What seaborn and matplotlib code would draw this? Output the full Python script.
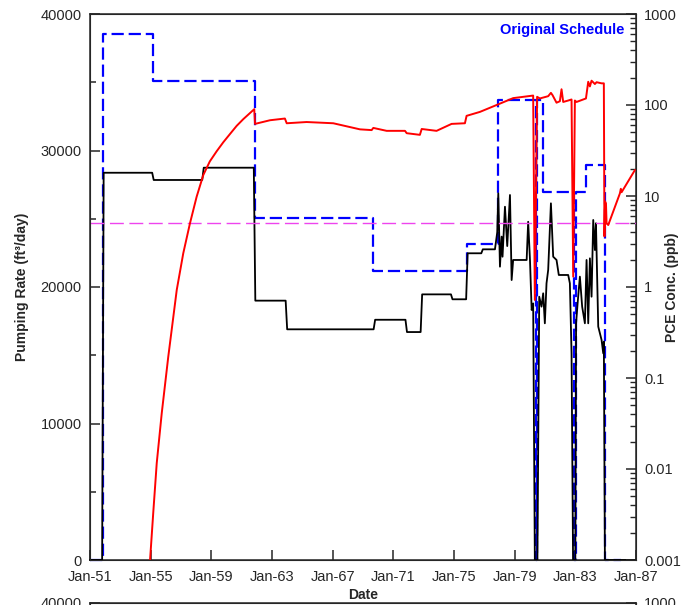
import numpy as np
import pandas as pd
import matplotlib
matplotlib.use("Agg")
import matplotlib.pyplot as plt
import seaborn as sns
from matplotlib.ticker import MultipleLocator, LogLocator, NullFormatter, FixedLocator

# ---------------- data ----------------
# Original schedule (left axis, ft3/day), step-post
sched_year = [1951.0, 1951.87, 1955.17, 1961.88, 1969.68, 1975.83, 1977.87,
              1980.40, 1980.50, 1980.88, 1982.88, 1983.06, 1983.70, 1984.93, 1986.0]
sched_rate = [0, 38530, 35070, 25080, 21190, 23130, 33710,
              0, 33710, 26970, 0, 26970, 28940, 0, 0]

# Actual pumping rate (left axis, ft3/day)
pump_year = [1951.0, 1951.8, 1951.9, 1955.1, 1955.2, 1958.4, 1958.5, 1961.8, 1961.9,
             1963.9, 1964.0, 1969.7, 1969.8, 1971.8, 1971.9, 1972.8, 1972.9, 1974.8,
             1974.9, 1975.8, 1975.9, 1976.8, 1976.9, 1977.7, 1977.85, 1977.92, 1978.03,
             1978.14, 1978.20, 1978.36, 1978.51, 1978.69, 1978.80, 1978.90, 1979.79,
             1979.89, 1980.01, 1980.12, 1980.22, 1980.33, 1980.50, 1980.62, 1980.77,
             1980.88, 1980.99, 1981.10, 1981.21, 1981.39, 1981.54, 1981.76, 1981.91,
             1982.53, 1982.64, 1982.75, 1982.85, 1983.00, 1983.05, 1983.15, 1983.30,
             1983.45, 1983.63, 1983.74, 1983.85, 1983.96, 1984.07, 1984.18, 1984.29,
             1984.36, 1984.51, 1984.73, 1984.84, 1984.88, 1984.95, 1987.0]
pump_rate = [0, 0, 28370, 28370, 27840, 27840, 28740, 28740, 19000,
             19000, 16900, 16900, 17600, 17600, 16700, 16700, 19460, 19460,
             19100, 19100, 22470, 22470, 22760, 22760, 24000, 26860, 21490,
             23690, 22220, 25880, 23000, 26740, 20510, 21980, 21980,
             24780, 21980, 18315, 18800, 0, 0, 19290, 18560,
             19540, 17340, 20270, 21250, 26130, 22220, 21980, 20880,
             20880, 20270, 15140, 0, 0, 17340, 18800, 20760,
             18560, 17340, 21980, 17340, 22100, 19290, 24910, 22710,
             24670, 17100, 16120, 15140, 16000, 0, 0]

# PCE concentration (right axis, ppb)
pce_year = [1954.96, 1955.17, 1955.40, 1955.73, 1956.16, 1956.72, 1957.15, 1957.59,
            1958.03, 1958.47, 1958.90, 1959.35, 1959.79, 1960.23, 1960.67, 1961.11,
            1961.83, 1961.88, 1962.87, 1963.85, 1963.97,
            1965.28, 1967.04, 1968.80, 1969.57, 1969.68, 1970.56, 1971.77, 1971.88,
            1972.75, 1972.87, 1973.85, 1974.84, 1975.72, 1975.83, 1976.71, 1977.81,
            1978.90, 1980.22, 1980.33, 1980.48, 1980.66, 1981.21, 1981.39, 1981.50,
            1981.76, 1981.98, 1982.09, 1982.20, 1982.53, 1982.75, 1982.86, 1982.97,
            1983.08, 1983.52, 1983.70, 1983.85, 1983.96, 1984.07, 1984.29, 1984.40,
            1984.73, 1984.88, 1984.92, 1984.96, 1985.02, 1985.06, 1985.17, 1985.94,
            1986.00, 1986.05, 1986.93]
pce_conc = [0.001, 0.0033, 0.0116, 0.041, 0.171, 0.93, 2.35, 5.0,
            9.8, 17, 24, 31, 39, 48, 59, 70,
            90, 62, 68, 71, 63,
            65, 63, 54, 53, 56, 52, 52, 49,
            47, 54.5, 52, 62, 63, 76, 84, 100,
            119, 127, 0.72, 123, 118, 125, 136, 128,
            106, 110, 149, 108, 112, 115, 1.3, 112,
            108, 115, 118, 180, 160, 185, 170, 178,
            173, 173, 3.6, 8.7, 8.3, 5.0, 4.8, 10.7,
            12, 11, 19.3]

mcl_ppb = 5.0

x_ticks = list(range(1951, 1988, 4))
x_labels = ["Jan-%02d" % (y % 100) for y in x_ticks]

# ---------------- style ----------------
sns.set_style("ticks")
plt.rcParams['font.family'] = ['Liberation Sans', 'DejaVu Sans']
plt.rcParams['xtick.direction'] = 'in'
plt.rcParams['ytick.direction'] = 'in'

W, H = 683, 605
fig = plt.figure(figsize=(W / 100, H / 100), dpi=100)
L, R, T, B = 90, 636, 14, 560
ax = fig.add_axes([L / W, 1 - B / H, (R - L) / W, (B - T) / H])

sched_df = pd.DataFrame({"year": sched_year, "rate": sched_rate})
pump_df = pd.DataFrame({"year": pump_year, "rate": pump_rate})
pce_df = pd.DataFrame({"year": pce_year, "conc": pce_conc})

sns.lineplot(data=sched_df, x="year", y="rate", ax=ax, sort=False, estimator=None,
             color="#0000ff", lw=1.6, drawstyle="steps-post",
             linestyle=(0, (5.5, 2.2)), clip_on=False, zorder=2)
sns.lineplot(data=pump_df, x="year", y="rate", ax=ax, sort=False, estimator=None,
             color="black", lw=1.3, clip_on=False, zorder=3)

ax.set_xlim(1951, 1987)
ax.set_ylim(0, 40000)
ax.set_xticks(x_ticks)
ax.set_xticklabels(x_labels, fontsize=10.5)
ax.yaxis.set_major_locator(MultipleLocator(10000))
ax.yaxis.set_minor_locator(MultipleLocator(5000))
ax.tick_params(axis='y', which='major', labelsize=10.5, length=7, width=1.1, pad=6)
ax.tick_params(axis='y', which='minor', length=4.5, width=1.1)
ax.tick_params(axis='x', which='major', length=7, width=1.1, pad=7)
ax.set_ylabel("Pumping Rate (ft³/day)", fontsize=10, fontweight='bold')
ax.yaxis.set_label_coords((22 - L) / (R - L), 0.5)
ax.yaxis.label.set_va('center')
ax.set_xlabel("Date", fontsize=10, fontweight='bold')
ax.xaxis.set_label_coords(0.5, -(595 - B) / (B - T))
ax.xaxis.label.set_va('center')
for s in ax.spines.values():
    s.set_linewidth(1.1)

ax2 = ax.twinx()
sns.lineplot(data=pce_df, x="year", y="conc", ax=ax2, sort=False, estimator=None,
             color="#ff0000", lw=1.4, zorder=4)
ax2.axhline(mcl_ppb, color="#ee44ee", lw=1.0, linestyle=(0, (10, 4)), zorder=1)
ax2.set_yscale('log')
ax2.set_ylim(0.001, 1000)
ax2.set_xlim(1951, 1987)
ax2.yaxis.set_minor_locator(LogLocator(base=10, subs=np.arange(2, 10), numticks=20))
ax2.yaxis.set_minor_formatter(NullFormatter())
ax2.set_yticks([0.001, 0.01, 0.1, 1, 10, 100, 1000])
ax2.set_yticklabels(["0.001", "0.01", "0.1", "1", "10", "100", "1000"])
ax2.tick_params(axis='y', which='major', labelsize=10.5, length=7, width=1.1, pad=6)
ax2.tick_params(axis='y', which='minor', length=4, width=1.0)
ax2.set_ylabel("PCE Conc. (ppb)", fontsize=10, fontweight='bold')
ax2.yaxis.set_label_coords((672 - L) / (R - L), 0.5)
ax2.yaxis.label.set_va('center')
ax2.text(0.978, 0.983, "Original Schedule", transform=ax2.transAxes, ha='right', va='top',
         color="#0000ff", fontsize=10.5, fontweight='bold')

# cut-off next panel at the bottom
top2 = 603
axb = fig.add_axes([L / W, 1 - top2 / H - 0.5, (R - L) / W, 0.5])
axb.set_xlim(1951, 1987)
axb.set_ylim(0, 40000)
axb.set_yticks([40000])
axb.set_yticklabels(["40000"])
axb.set_xticks([])
axb.tick_params(axis='y', labelsize=10.5, length=7, width=1.1, pad=6)
for s in axb.spines.values():
    s.set_linewidth(1.1)
axb2 = axb.twinx()
axb2.set_yscale('log')
axb2.set_ylim(0.001, 1000)
axb2.yaxis.set_major_locator(FixedLocator([1000]))
axb2.set_yticklabels(["1000"])
axb2.yaxis.set_minor_formatter(NullFormatter())
axb2.tick_params(axis='y', labelsize=10.5, length=7, width=1.1, pad=6)

fig.savefig("out.png", dpi=100)
